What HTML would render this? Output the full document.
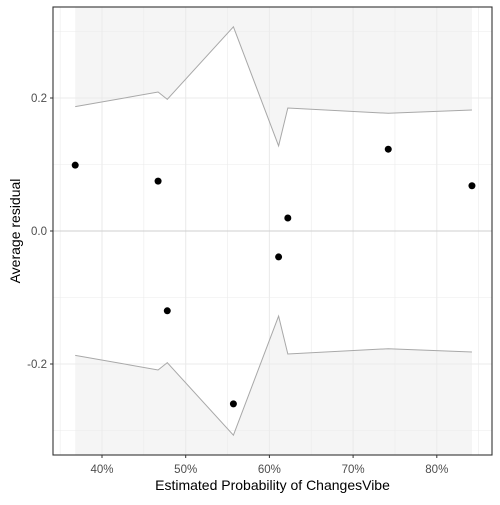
<!DOCTYPE html>
<html><head><meta charset="utf-8"><style>
body{margin:0;background:#fff}
svg{font-family:"Liberation Sans",sans-serif}
</style></head><body>
<svg id="c" width="500" height="500"></svg>
<script>
const probs=[36.8,46.7,47.8,55.7,61.1,62.2,74.2,84.2];
const residuals=[0.099,0.075,-0.12,-0.26,-0.039,0.0195,0.123,0.068];
const bandUpper=[0.187,0.209,0.198,0.307,0.128,0.185,0.177,0.182];
const xTicks=[40,50,60,70,80];
const yTicks=[-0.2,0.0,0.2];
const xMinor=[35,45,55,65,75,85];
const yMinor=[-0.3,-0.1,0.1,0.3];
const L=53,R=492,T=7,B=455;
const xs=p=>102+(p-40)*8.37;
const ys=v=>231-v*665;
const NS='http://www.w3.org/2000/svg';
const svg=document.getElementById('c');
function mk(t,a,p){const e=document.createElementNS(NS,t);for(const k in a)e.setAttribute(k,a[k]);(p||svg).appendChild(e);return e;}
const bg=mk('rect',{x:L,y:T,width:R-L,height:B-T,fill:'#fff'});


// band shading
let up='M'+xs(probs[0])+','+T;probs.forEach((p,i)=>up+=' L'+xs(p)+','+ys(bandUpper[i]));up+=' L'+xs(probs[probs.length-1])+','+T+'Z';
const su=mk('path',{d:up,fill:'#f5f5f5'});


let lo='M'+xs(probs[0])+','+B;probs.forEach((p,i)=>lo+=' L'+xs(p)+','+ys(-bandUpper[i]));lo+=' L'+xs(probs[probs.length-1])+','+B+'Z';
const sl=mk('path',{d:lo,fill:'#f5f5f5'});


xMinor.forEach(v=>{const g=mk('line',{x1:xs(v),x2:xs(v),y1:T,y2:B,stroke:'#ebebeb','stroke-width':0.6});});
yMinor.forEach(v=>{const g=mk('line',{x1:L,x2:R,y1:ys(v),y2:ys(v),stroke:'#ebebeb','stroke-width':0.6});});
xTicks.forEach(v=>{const g=mk('line',{x1:xs(v),x2:xs(v),y1:T,y2:B,stroke:'#ebebeb','stroke-width':1.1});
const t=mk('text',{x:xs(v),y:473,'text-anchor':'middle','font-size':11.5,fill:'#4d4d4d'});t.textContent=v+'%';
mk('line',{x1:xs(v),x2:xs(v),y1:B,y2:B+3,stroke:'#333'});});
yTicks.forEach(v=>{const g=mk('line',{x1:L,x2:R,y1:ys(v),y2:ys(v),stroke:v===0?'#cfcfcf':'#ebebeb','stroke-width':1.1});
const t=mk('text',{x:47,y:ys(v)+4,'text-anchor':'end','font-size':11.5,fill:'#4d4d4d'});t.textContent=v.toFixed(1);
mk('line',{x1:L-3,x2:L,y1:ys(v),y2:ys(v),stroke:'#333'});});
const lu=mk('polyline',{points:probs.map((p,i)=>xs(p)+','+ys(bandUpper[i])).join(' '),fill:'none',stroke:'#a8a8a8','stroke-width':1});


const ll=mk('polyline',{points:probs.map((p,i)=>xs(p)+','+ys(-bandUpper[i])).join(' '),fill:'none',stroke:'#a8a8a8','stroke-width':1});


probs.forEach((p,i)=>{const c=mk('circle',{cx:xs(p),cy:ys(residuals[i]),r:3.5,fill:'#000'});

});
const br=mk('rect',{x:L,y:T,width:R-L,height:B-T,fill:'none',stroke:'#333','stroke-width':1.1});


const xt=mk('text',{x:(L+R)/2,y:490,'text-anchor':'middle','font-size':14,fill:'#000'});xt.textContent='Estimated Probability of ChangesVibe';


const yt=mk('text',{x:0,y:0,'text-anchor':'middle','font-size':14,fill:'#000',transform:'translate(20,'+(T+B)/2+') rotate(-90)'});yt.textContent='Average residual';


</script>
</body></html>
